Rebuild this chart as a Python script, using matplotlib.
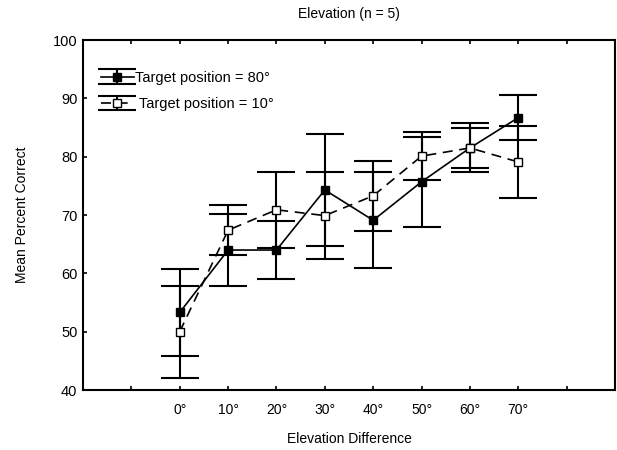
import numpy as np
import matplotlib
matplotlib.use("Agg")
import matplotlib.pyplot as plt

plt.rcParams['font.family'] = ['Liberation Sans', 'DejaVu Sans']

# data
elev_diff = [0, 10, 20, 30, 40, 50, 60, 70]
tick_labels = ["0°", "10°", "20°", "30°", "40°", "50°", "60°", "70°"]

mean_80 = [53.3, 64.0, 64.0, 74.3, 69.1, 75.7, 81.5, 86.7]
err_80 = [7.4, 6.2, 4.9, 9.6, 8.2, 7.7, 4.2, 3.8]

mean_10 = [50.0, 67.4, 70.9, 69.9, 73.3, 80.1, 81.5, 79.1]
err_10 = [7.9, 4.3, 6.5, 7.4, 6.0, 4.1, 3.4, 6.1]

fig = plt.figure(figsize=(6.17, 4.5), dpi=100)
ax = fig.add_axes([0.1345, 0.1333, 0.8623, 0.7777])

ax.errorbar(elev_diff, mean_80, yerr=err_80, color='black', lw=1.2,
            elinewidth=1.5, capsize=14, capthick=1.5,
            marker='s', markersize=6, markerfacecolor='black',
            markeredgecolor='black', label='Target position = 80°')
ax.errorbar(elev_diff, mean_10, yerr=err_10, color='black', lw=1.2,
            linestyle=(0, (6, 4)), elinewidth=1.5, capsize=14, capthick=1.5,
            marker='s', markersize=6, markerfacecolor='white',
            markeredgecolor='black', label=' Target position = 10°')

ax.set_xlim(-20, 90)
ax.set_ylim(40, 100)
ax.set_xticks(np.arange(-20, 91, 10))
ax.set_xticklabels(["", ""] + tick_labels + ["", ""])
ax.set_yticks(np.arange(40, 101, 10))
ax.tick_params(axis='x', direction='in', top=True, length=3, width=1.2, labelsize=10, pad=9)
ax.tick_params(axis='y', direction='in', length=3, width=1.2, labelsize=10.5, pad=4)
for s in ax.spines.values():
    s.set_linewidth(1.5)

ax.set_title("Elevation (n = 5)", fontsize=10, pad=16)
ax.set_xlabel("Elevation Difference", fontsize=10, labelpad=11)
ax.set_ylabel("Mean Percent Correct", fontsize=10, labelpad=17)

ax.legend(loc='upper left', frameon=False, fontsize=10.5, handlelength=2.2,
          handletextpad=0.1, labelspacing=0.85, bbox_to_anchor=(0.01, 0.95))

fig.savefig("out.png", dpi=100)
